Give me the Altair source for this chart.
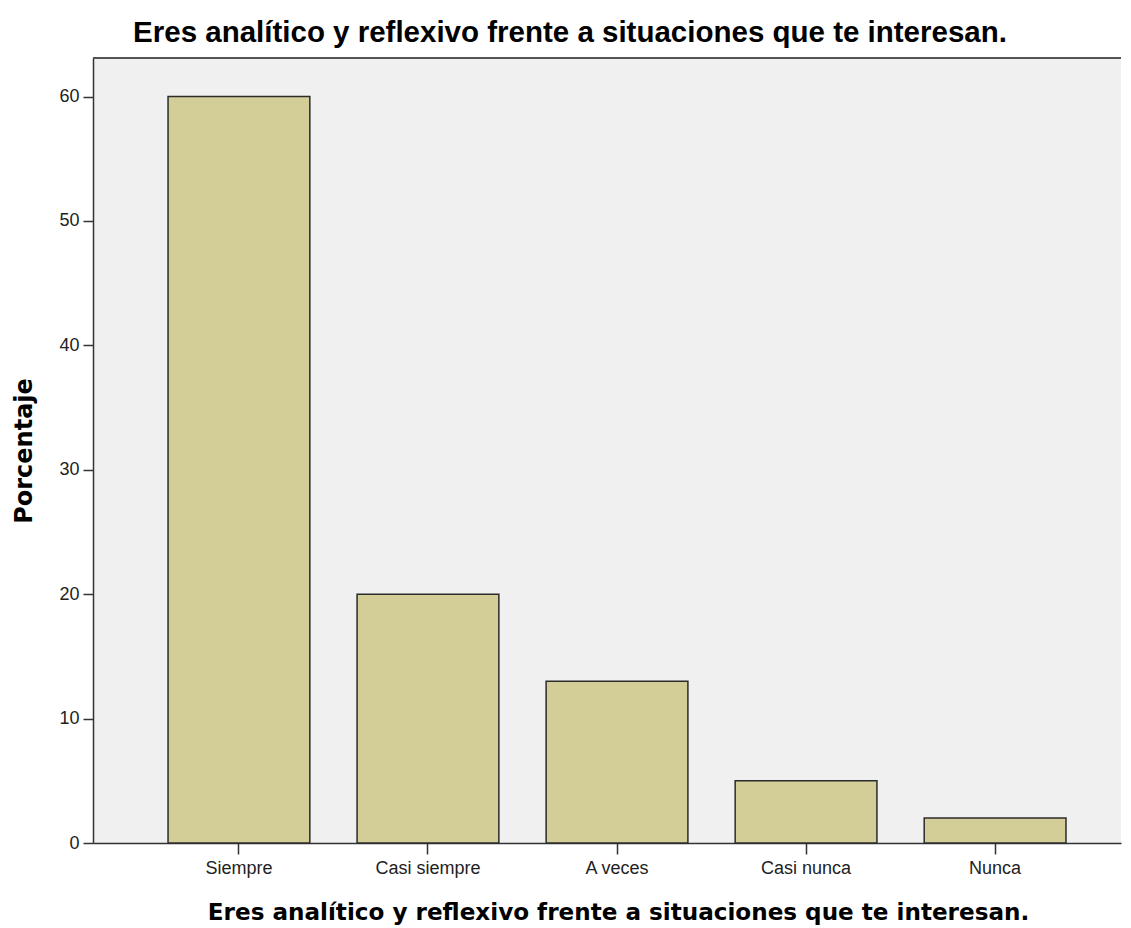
import altair as alt
import pandas as pd

categories = ["Siempre", "Casi siempre", "A veces", "Casi nunca", "Nunca"]
percentages = [60, 20, 13, 5, 2]
y_ticks = [0, 10, 20, 30, 40, 50, 60]

title_text = "Eres analítico y reflexivo frente a situaciones que te interesan."

df = pd.DataFrame({"cat": categories, "pct": percentages})

W, H = 1028, 785

bars = alt.Chart(df).mark_bar(
    fill="#D3CE97", stroke="#2b2b2b", strokeWidth=1.5
).encode(
    x=alt.X(
        "cat:N",
        sort=categories,
        title=title_text,
        scale=alt.Scale(paddingInner=0.25, paddingOuter=0.344, align=0.577),
        axis=alt.Axis(
            labelAngle=0,
            labelFont="Liberation Sans",
            labelFontSize=18,
            labelColor="#222222",
            labelPadding=5,
            tickSize=11,
            tickWidth=1.5,
            tickColor="#333333",
            domainColor="#333333",
            domainWidth=1.5,
            titleFont="DejaVu Sans",
            titleFontSize=23.1,
            titleFontWeight="bold",
            titleColor="#000000",
            titlePadding=24,
            titleX=525,
            titleAlign="center",
        ),
    ),
    y=alt.Y(
        "pct:Q",
        title="Porcentaje",
        scale=alt.Scale(domain=[0, 63.1], nice=False),
        axis=alt.Axis(
            values=y_ticks,
            grid=False,
            labelFont="Liberation Sans",
            labelFontSize=18,
            labelColor="#222222",
            labelPadding=4,
            tickSize=10,
            tickWidth=1.5,
            tickColor="#333333",
            domainColor="#333333",
            domainWidth=1.5,
            titleFont="DejaVu Sans",
            titleFontSize=24,
            titleFontWeight="bold",
            titleColor="#000000",
            titlePadding=22,
        ),
    ),
)

top_border = alt.Chart(df).mark_rule(color="#555555", strokeWidth=1.5).encode(
    x=alt.value(0), x2=alt.value(W), y=alt.value(0)
)

chart = alt.layer(bars, top_border).properties(
    width=W,
    height=H,
    background="#FFFFFF",
    autosize=alt.AutoSizeParams(type="none"),
    padding={"left": 85, "top": 50, "right": 2, "bottom": 85},
    title=alt.TitleParams(
        title_text,
        font="Liberation Sans",
        fontSize=29.5,
        fontWeight="bold",
        color="#000000",
        anchor="middle",
        dx=-37,
        offset=9,
    ),
).configure_view(
    fill="#F0F0F0", stroke=None
)

chart.save("out.html", embed_options={"renderer": "svg", "actions": False})
